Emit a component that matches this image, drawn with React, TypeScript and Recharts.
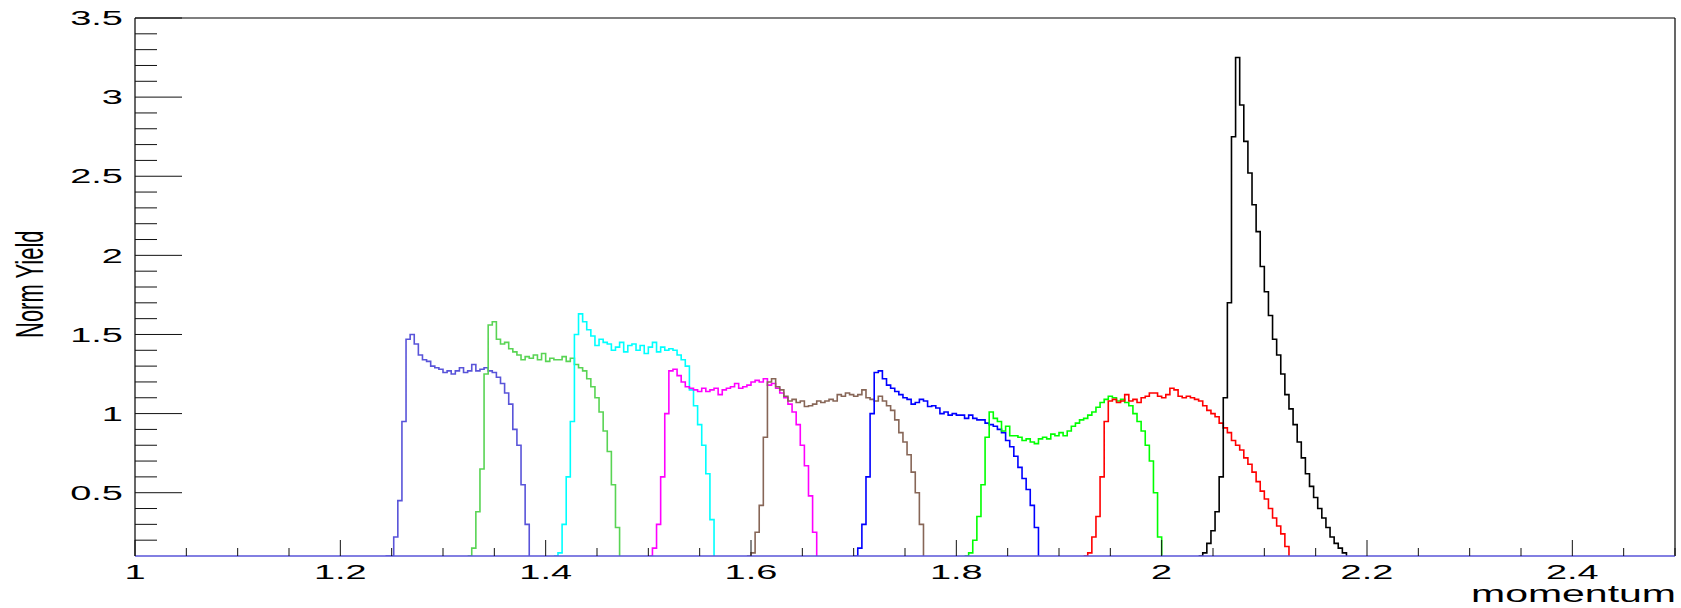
import { LineChart, Line, XAxis, YAxis, ReferenceLine } from 'recharts';

const BIN = 0.004;
const Y_MIN = 0.1;
const Y_MAX = 3.5;
const X_MIN = 1;
const X_MAX = 2.5;

const xTicks = [
  1, 1.05, 1.1, 1.15, 1.2, 1.25, 1.3, 1.35, 1.4, 1.45, 1.5, 1.55, 1.6, 1.65, 1.7, 1.75,
  1.8, 1.85, 1.9, 1.95, 2, 2.05, 2.1, 2.15, 2.2, 2.25, 2.3, 2.35, 2.4, 2.45, 2.5,
];
const xMajorTicks = [1, 1.2, 1.4, 1.6, 1.8, 2, 2.2, 2.4];
const xTickLabels = ['1', '1.2', '1.4', '1.6', '1.8', '2', '2.2', '2.4'];

const yTicks = [
  0.2, 0.3, 0.4, 0.5, 0.6, 0.7, 0.8, 0.9, 1, 1.1, 1.2, 1.3, 1.4, 1.5, 1.6, 1.7, 1.8, 1.9,
  2, 2.1, 2.2, 2.3, 2.4, 2.5, 2.6, 2.7, 2.8, 2.9, 3, 3.1, 3.2, 3.3, 3.4, 3.5,
];
const yMajorTicks = [0.5, 1, 1.5, 2, 2.5, 3, 3.5];
const yTickLabels = ['0.5', '1', '1.5', '2', '2.5', '3', '3.5'];

// first bin (low edge) of every histogram
const seriesStarts = [1.248, 1.328, 1.412, 1.504, 1.6, 1.704, 1.812, 1.928, 2.04];
const seriesColors = ['#5954d9', '#59d454', '#00ffff', '#ff00ff', '#876657', '#0000ff', '#00ff00', '#ff0000', '#000000'];

const h1Values = [
  0.1, 0.22, 0.45, 0.95, 1.47, 1.5, 1.44, 1.37, 1.34, 1.33, 1.3, 1.29, 1.28, 1.26, 1.27, 1.25, 1.27,
  1.29, 1.26, 1.27, 1.31, 1.27, 1.28, 1.29, 1.27, 1.26, 1.23, 1.19, 1.13, 1.06, 0.9, 0.8, 0.55, 0.3, 0,
];
const h2Values = [
  0.15, 0.38, 0.65, 1.25, 1.56, 1.58, 1.47, 1.44, 1.45, 1.41, 1.39, 1.37, 1.34, 1.36, 1.35, 1.37, 1.34,
  1.38, 1.33, 1.35, 1.34, 1.34, 1.36, 1.33, 1.35, 1.31, 1.29, 1.27, 1.22, 1.17, 1.1, 1.01, 0.89, 0.76,
  0.55, 0.28, 0,
];
const h3Values = [
  0.12, 0.3, 0.6, 0.95, 1.5, 1.63, 1.58, 1.53, 1.49, 1.43, 1.47, 1.45, 1.44, 1.4, 1.42, 1.45, 1.39,
  1.43, 1.44, 1.4, 1.43, 1.38, 1.42, 1.45, 1.39, 1.42, 1.4, 1.41, 1.4, 1.37, 1.34, 1.3, 1.15, 1.05,
  0.93, 0.8, 0.62, 0.33, 0,
];
const h4Values = [
  0.15, 0.3, 0.6, 1.0, 1.27, 1.28, 1.24, 1.2, 1.17, 1.16, 1.15, 1.14, 1.16, 1.14, 1.15, 1.16, 1.12,
  1.15, 1.16, 1.17, 1.19, 1.16, 1.17, 1.18, 1.2, 1.21, 1.2, 1.22, 1.18, 1.19, 1.16, 1.13, 1.1, 1.06,
  1.01, 0.93, 0.8, 0.67, 0.48, 0.25, 0,
];
const h5Values = [
  0.12, 0.25, 0.42, 0.85, 1.2, 1.22, 1.17, 1.15, 1.11, 1.08, 1.09, 1.07, 1.08, 1.045, 1.05, 1.06,
  1.08, 1.07, 1.08, 1.09, 1.08, 1.12, 1.11, 1.13, 1.12, 1.11, 1.12, 1.15, 1.1, 1.09, 1.08, 1.11, 1.08,
  1.05, 1.02, 0.96, 0.88, 0.82, 0.74, 0.63, 0.5, 0.3, 0,
];
const h6Values = [
  0.15, 0.3, 0.6, 1.0, 1.26, 1.27, 1.22, 1.18, 1.16, 1.14, 1.12, 1.1, 1.09, 1.06, 1.07, 1.09, 1.08,
  1.045, 1.05, 1.035, 1.0, 1.01, 0.99, 1.0, 0.99, 0.99, 0.97, 0.99, 0.97, 0.96, 0.96, 0.94, 0.93,
  0.92, 0.9, 0.88, 0.83, 0.79, 0.73, 0.66, 0.59, 0.52, 0.42, 0.28, 0,
];
const h7Values = [
  0.12, 0.2, 0.35, 0.55, 0.85, 1.01, 0.97, 0.95, 0.89, 0.92, 0.86, 0.86, 0.85, 0.83, 0.84, 0.82,
  0.81, 0.84, 0.85, 0.84, 0.87, 0.86, 0.88, 0.86, 0.89, 0.92, 0.94, 0.96, 0.97, 0.99, 1.01, 1.04,
  1.07, 1.09, 1.11, 1.1, 1.08, 1.09, 1.07, 1.05, 1.0, 0.95, 0.89, 0.8, 0.7, 0.5, 0.22, 0,
];
const h8Values = [
  0.12, 0.22, 0.35, 0.6, 0.95, 1.08, 1.09, 1.07, 1.08, 1.12, 1.08, 1.09, 1.07, 1.1, 1.11, 1.13, 1.13,
  1.11, 1.1, 1.12, 1.16, 1.15, 1.11, 1.1, 1.11, 1.1, 1.09, 1.08, 1.05, 1.02, 1.0, 0.98, 0.94, 0.91,
  0.88, 0.83, 0.8, 0.77, 0.72, 0.68, 0.63, 0.57, 0.51, 0.46, 0.4, 0.34, 0.29, 0.24, 0.16, 0,
];
const h9Values = [
  0.12, 0.18, 0.26, 0.38, 0.6, 1.1, 1.7, 2.75, 3.25, 2.95, 2.72, 2.52, 2.32, 2.15, 1.93, 1.77, 1.62,
  1.47, 1.37, 1.25, 1.12, 1.03, 0.93, 0.82, 0.72, 0.62, 0.54, 0.47, 0.4, 0.34, 0.28, 0.22, 0.18, 0.15,
  0.12, 0,
];

const seriesValues = [h1Values, h2Values, h3Values, h4Values, h5Values, h6Values, h7Values, h8Values, h9Values];

// one row per bin edge; a histogram is only defined around its own range,
// contents below the axis minimum are drawn on the frame (as ROOT does)
const data: Record<string, number | null>[] = [];
const nBins = Math.round((X_MAX - X_MIN) / BIN);
for (let i = 0; i <= nBins; i++) {
  const x = +(X_MIN + i * BIN).toFixed(3);
  const row: Record<string, number | null> = { x };
  seriesValues.forEach((vals, s) => {
    const k = Math.round((x - seriesStarts[s]) / BIN);
    let v: number | null = null;
    if (k === -1) v = 0;
    else if (k >= 0 && k < vals.length) v = vals[k];
    row[`h${s + 1}`] = v === null ? null : Math.max(v, Y_MIN);
  });
  data.push(row);
}

const FONT = '"Liberation Sans", Arial, Helvetica, sans-serif';
const PLOT_LEFT = 135;
const PLOT_BOTTOM = 556;
const STRETCH = 1.9;

const renderYTick = (props: any) => {
  const { y, payload } = props;
  const idx = yMajorTicks.indexOf(payload.value);
  const major = idx >= 0;
  return (
    <g>
      <line x1={PLOT_LEFT} x2={PLOT_LEFT + (major ? 47 : 22)} y1={y} y2={y} stroke="#111" strokeWidth={1} />
      {major && (
        <g transform={`translate(123,${y + 7.2}) scale(${STRETCH},1)`}>
          <text x={0} y={0} textAnchor="end" fontFamily={FONT} fontSize={20} fill="#000">
            {yTickLabels[idx]}
          </text>
        </g>
      )}
    </g>
  );
};

const renderXTick = (props: any) => {
  const { x, payload } = props;
  const idx = xMajorTicks.indexOf(payload.value);
  const major = idx >= 0;
  return (
    <g>
      <line x1={x} x2={x} y1={PLOT_BOTTOM} y2={PLOT_BOTTOM - (major ? 16 : 8)} stroke="#111" strokeWidth={1} />
      {major && (
        <g transform={`translate(${x},579) scale(${STRETCH},1)`}>
          <text x={0} y={0} textAnchor="middle" fontFamily={FONT} fontSize={20} fill="#000">
            {xTickLabels[idx]}
          </text>
        </g>
      )}
    </g>
  );
};

const XTitle = () => (
  <text x={1471} y={602} textLength={205} lengthAdjust="spacingAndGlyphs" fontFamily={FONT} fontSize={24} fill="#000">
    momentum
  </text>
);

const YTitle = () => (
  <text transform="translate(43,338) rotate(-90) scale(1,1.78)" x={0} y={0} fontFamily={FONT} fontSize={22} fill="#000">
    Norm Yield
  </text>
);

export default function App() {
  return (
    <div style={{ position: 'absolute', left: 0, top: 0, width: 1681, height: 608, background: '#fff' }}>
      <LineChart width={1681} height={608} data={data} margin={{ top: 18, right: 6, bottom: 0, left: 0 }}>
        <XAxis
          type="number"
          dataKey="x"
          domain={[X_MIN, X_MAX]}
          ticks={xTicks}
          interval={0}
          tick={renderXTick}
          tickLine={false}
          height={52}
          allowDataOverflow
          axisLine={{ stroke: '#5954d9', strokeWidth: 1.5 }}
          label={<XTitle />}
        />
        <YAxis
          type="number"
          domain={[Y_MIN, Y_MAX]}
          ticks={yTicks}
          interval={0}
          tick={renderYTick}
          tickLine={false}
          width={135}
          allowDataOverflow
          axisLine={{ stroke: '#000', strokeWidth: 1.2 }}
          label={<YTitle />}
        />
        <ReferenceLine y={Y_MAX} stroke="#000" strokeWidth={1.2} />
        <ReferenceLine x={X_MAX} stroke="#000" strokeWidth={1.2} />
        {seriesColors.map((c, s) => (
          <Line
            key={s}
            dataKey={`h${s + 1}`}
            type="stepAfter"
            stroke={c}
            strokeWidth={1.6}
            dot={false}
            connectNulls={false}
            isAnimationActive={false}
          />
        ))}
      </LineChart>
    </div>
  );
}
